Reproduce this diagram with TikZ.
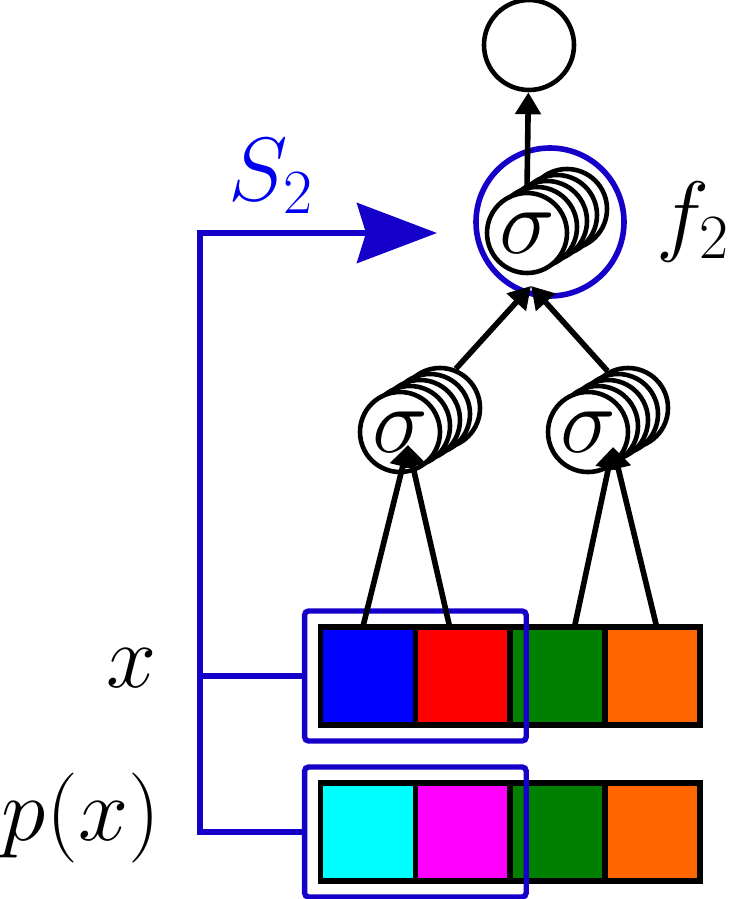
\RequirePackage{fix-cm}
\documentclass[tikz,border=0pt]{standalone}
\usepackage{amsmath}
\usepackage{tikz}
\usetikzlibrary{arrows.meta,positioning,calc,fit}
\definecolor{selblue}{HTML}{1400C8}
\definecolor{labelblue}{HTML}{0000F0}
\definecolor{cellgreen}{HTML}{008000}
\definecolor{cellorange}{HTML}{FF6600}
\definecolor{cellcyan}{HTML}{00FFFF}
\definecolor{cellmagenta}{HTML}{FF00FF}

\begin{document}
\begin{tikzpicture}[
  x=0.5pt,y=-0.5pt,
  font=\fontsize{45}{54}\selectfont,
  neuron/.style={circle,draw,fill=white,line width=2.3pt,minimum size=40pt,inner sep=0pt,font=\fontsize{47}{56}\selectfont},
  cell/.style={draw,line width=2.8pt,minimum width=47.4pt,minimum height=49pt,inner sep=0pt,outer sep=0pt},
  selbox/.style={draw=selblue,line width=2.7pt,rounded corners=2pt,inner sep=8pt},
  arr/.style={-{Triangle[length=11pt,width=12.5pt]},line width=2.8pt},
  bline/.style={draw=selblue,line width=2.7pt}
]
\useasboundingbox (0,0) rectangle (739,899);

% input x and perturbed input p(x)
\node[cell,fill=blue] (x1) at (368,676) {};
\node[cell,fill=red,right=0pt of x1] (x2) {};
\node[cell,fill=cellgreen,right=0pt of x2] (x3) {};
\node[cell,fill=cellorange,right=0pt of x3] (x4) {};
\node[cell,fill=cellcyan] (p1) at (368,832) {};
\node[cell,fill=cellmagenta,right=0pt of p1] (p2) {};
\node[cell,fill=cellgreen,right=0pt of p2] (p3) {};
\node[cell,fill=cellorange,right=0pt of p3] (p4) {};
\node[selbox,fit=(x1)(x2)] (sel1) {};
\node[selbox,fit=(p1)(p2)] (sel2) {};

% hidden units
\foreach \k in {4,3,2,1} {
  \node[neuron] (h1-\k) at (400+10*\k,432-6*\k) {};
  \node[neuron] (h2-\k) at (588+10*\k,432-6*\k) {};
  \node[neuron] (s2-\k) at (527+10*\k,233-6*\k) {};
}
\node[neuron] (h1) at (400,432) {$\sigma$};
\node[neuron] (h2) at (588,432) {$\sigma$};
\node[neuron] (s2) at (527,233) {$\sigma$};
\node[circle,draw=selblue,line width=2.8pt,minimum size=74pt] (f2) at (550,222) {};
\node[neuron,minimum size=45pt] (out) at (529,45) {};

% labels
\node[text=labelblue] (s2lab) at (271,176) {$S_2$};
\node (f2lab) at (693,222) {$f_2$};
\node (xlab) at (132,668) {$x$};
\node (pxlab) at (81,818) {$p(x)$};

% connections
\coordinate (h1-in) at (408,445);
\coordinate (h2-in) at (613,447);
\coordinate (s2-in) at (531,286);
\draw[arr] (x1.96) -- (h1-in);
\draw[arr] (x2.105) -- (h1-in);
\draw[arr] (x3.71) -- (h2-in);
\draw[arr] (x4.85) -- (h2-in);
\draw[arr] (h1-4.68) -- (s2-in);
\draw[arr] (h2-4.119) -- (s2-in);
\draw[arr] (s2.north) -- (out);

% selection bracket
\coordinate (bar) at (200,233);
\coordinate (f2-in) at (437,233);
\draw[bline,-{Stealth[length=40pt,width=30pt,inset=4.5pt]}] (sel2.west) -| (bar) -- (f2-in);
\draw[bline] (sel1.west) -- (sel1.west -| bar);
\end{tikzpicture}
\end{document}
